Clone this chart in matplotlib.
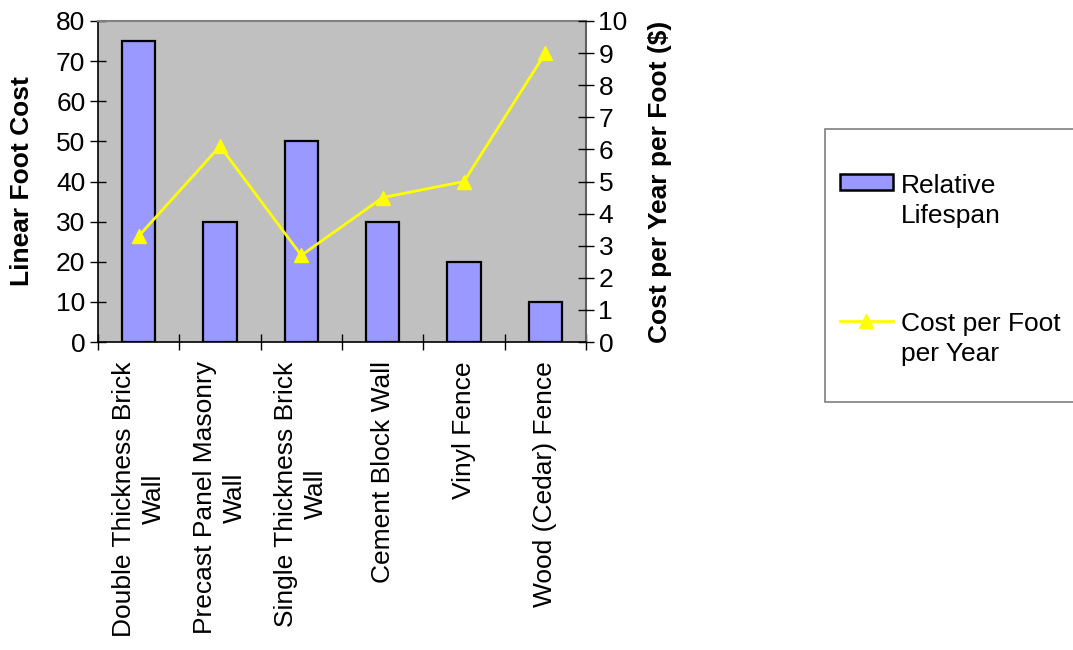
import matplotlib
matplotlib.use("Agg")
import matplotlib.pyplot as plt
from matplotlib.patches import Rectangle
from matplotlib.lines import Line2D
from matplotlib.patches import Patch
import numpy as np

plt.rcParams['font.family'] = ['Liberation Sans', 'DejaVu Sans']

categories = ["Double Thickness Brick\nWall", "Precast Panel Masonry\nWall",
              "Single Thickness Brick\nWall", "Cement Block Wall",
              "Vinyl Fence", "Wood (Cedar) Fence"]
relative_lifespan = [75, 30, 50, 30, 20, 10]
cost_per_foot_per_year = [3.3, 6.1, 2.7, 4.5, 5.0, 9.0]

FS = 19
fig = plt.figure(figsize=(10.73, 6.5), dpi=100)
ax = fig.add_axes([98/1073, 1-342/650, 488/1073, 321/650])
ax.set_facecolor("#C0C0C0")

x = np.arange(len(categories))
bars = ax.bar(x, relative_lifespan, width=0.41, color="#9999FF",
              edgecolor="black", linewidth=1.6, zorder=2)
ax.set_xlim(-0.5, len(categories) - 0.5)
ax.set_ylim(0, 80)
ax.set_yticks(np.arange(0, 81, 10))
ax.set_xticks(x)
ax.set_xticklabels(categories, rotation=90, ha="center", va="top",
                   multialignment="center", fontsize=FS, linespacing=1.3)
ax.set_xticks(np.arange(-0.5, len(categories)), minor=True)
ax.tick_params(axis="x", which="major", length=0, pad=14)
ax.tick_params(axis="x", which="minor", direction="inout", length=12, width=1)
ax.tick_params(axis="y", direction="inout", length=12, width=1, labelsize=FS, pad=3)
ax.set_ylabel("Linear Foot Cost", fontsize=FS, fontweight="bold")
ax.yaxis.set_label_coords(-0.131, 0.5)

for side in ("left", "bottom"):
    ax.spines[side].set_color("black")
    ax.spines[side].set_linewidth(1.2)
ax.spines["top"].set_color("#808080")
ax.spines["top"].set_linewidth(1.5)
ax.spines["right"].set_color("#606060")
ax.spines["right"].set_linewidth(1.5)

ax2 = ax.twinx()
ax2.plot(x, cost_per_foot_per_year, color="#FFFF00", linewidth=2,
         marker="^", markersize=10.5, zorder=3)
ax2.set_ylim(0, 10)
ax2.set_yticks(np.arange(0, 11, 1))
ax2.tick_params(axis="y", direction="inout", length=12, width=1, labelsize=FS, pad=3)
ax2.set_ylabel("Cost per Year per Foot ($)", fontsize=FS, fontweight="bold")
ax2.yaxis.set_label_coords(1.127, 0.5)
for sp in ax2.spines.values():
    sp.set_visible(False)

# legend box on the right
fig.patches.append(Rectangle((825/1073, 1-402/650), 260/1073, 273/650,
                             transform=fig.transFigure, facecolor="white",
                             edgecolor="#808080", linewidth=1.2))
handles = [Patch(facecolor="#9999FF", edgecolor="black", linewidth=1.8),
           Line2D([], [], color="#FFFF00", linewidth=2, marker="^", markersize=10.5)]
labels = ["Relative\nLifespan", "Cost per Foot\nper Year"]
leg = fig.legend(handles, labels, loc="upper left",
                 bbox_to_anchor=(840/1073, 1-174/650), frameon=False,
                 fontsize=FS, handlelength=2.0, handleheight=0.55,
                 handletextpad=0.3, labelspacing=3.2, borderpad=0,
                 borderaxespad=0)
for t in leg.get_texts():
    t.set_linespacing(1.3)
for col in leg._legend_handle_box.get_children():
    for row in col.get_children():
        row.align = "top"

fig.savefig("out.png", dpi=100)
